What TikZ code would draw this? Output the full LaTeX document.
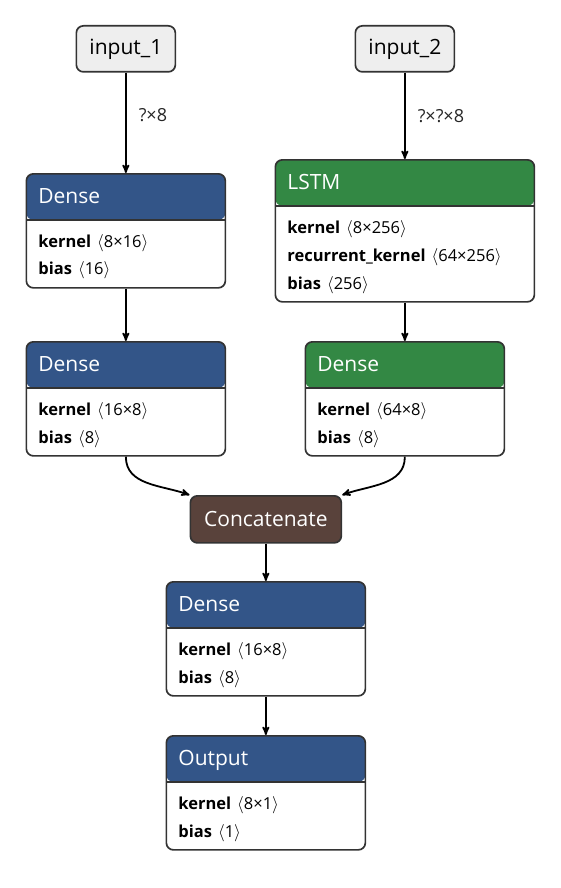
\documentclass[tikz,border=0pt]{standalone}
\usepackage{fontspec}
\setmainfont{Open Sans}
\usetikzlibrary{arrows,positioning}
\definecolor{densecol}{RGB}{51,85,136}
\definecolor{lstmcol}{RGB}{51,136,68}
\definecolor{catcol}{RGB}{89,66,59}
\definecolor{edgecol}{RGB}{51,51,51}
\definecolor{inputcol}{RGB}{238,238,238}
\newcommand\shp[1]{\hspace{6pt}$\langle$#1$\rangle$}

\begin{document}
\begin{tikzpicture}[x=1pt, y=-1pt, ->, >=stealth', line width=1.8pt,
	box/.style={draw=edgecol, line width=1.7pt, rounded corners=7pt, anchor=north west, inner sep=0pt},
	layer/.style={box, fill=white, minimum width=#1},
	hdr/.style={path picture={
		\fill[#1] (path picture bounding box.north west) rectangle ([yshift=-46pt]path picture bounding box.north east);
		\draw[-, draw=edgecol, line width=1.7pt] ([yshift=-46pt]path picture bounding box.north west) -- ([yshift=-46pt]path picture bounding box.north east);}},
	title/.style={anchor=base west, text=white, inner sep=0pt, font=\fontsize{21}{25}\selectfont},
	attr/.style={anchor=base west, inner sep=0pt, font=\fontsize{16.5}{19}\selectfont},
	lbl/.style={anchor=west, inner sep=0pt, xshift=12pt, text=black!85, font=\fontsize{18}{21}\selectfont}]
\useasboundingbox (0,0) rectangle (560,888);

% inputs
\node[box, fill=inputcol, minimum width=99pt, minimum height=46pt, font=\fontsize{21}{24}\selectfont] (in1) at (75.5,25) {input\_1};
\node[box, fill=inputcol, minimum width=99pt, minimum height=46pt, font=\fontsize{21}{24}\selectfont] (in2) at (354.5,25) {input\_2};

% left branch
\node[layer=199pt, minimum height=114pt, hdr=densecol] (d1) at (25.5,173) {};
\node[title] (d1t) at ([xshift=12pt,yshift=-30pt]d1.north west) {Dense};
\node[attr] (d1k) at ([xshift=12pt,yshift=-74pt]d1.north west) {\textbf{kernel}\shp{8×16}};
\node[attr] (d1b) at ([xshift=12pt,yshift=-101pt]d1.north west) {\textbf{bias}\shp{16}};

\node[layer=199pt, minimum height=114pt, hdr=densecol] (d2) at (25.5,341) {};
\node[title] (d2t) at ([xshift=12pt,yshift=-30pt]d2.north west) {Dense};
\node[attr] (d2k) at ([xshift=12pt,yshift=-74pt]d2.north west) {\textbf{kernel}\shp{16×8}};
\node[attr] (d2b) at ([xshift=12pt,yshift=-102pt]d2.north west) {\textbf{bias}\shp{8}};

% right branch
\node[layer=259pt, minimum height=142pt, hdr=lstmcol] (ls) at (274.5,159) {};
\node[title] (lst) at ([xshift=12pt,yshift=-30pt]ls.north west) {LSTM};
\node[attr] (lsk) at ([xshift=12pt,yshift=-74pt]ls.north west) {\textbf{kernel}\shp{8×256}};
\node[attr] (lsr) at ([xshift=12pt,yshift=-102pt]ls.north west) {\textbf{recurrent\_kernel}\shp{64×256}};
\node[attr] (lsb) at ([xshift=12pt,yshift=-130pt]ls.north west) {\textbf{bias}\shp{256}};

\node[layer=199pt, minimum height=114pt, hdr=lstmcol] (dr) at (304.5,341) {};
\node[title] (drt) at ([xshift=12pt,yshift=-30pt]dr.north west) {Dense};
\node[attr] (drk) at ([xshift=12pt,yshift=-74pt]dr.north west) {\textbf{kernel}\shp{64×8}};
\node[attr] (drb) at ([xshift=12pt,yshift=-102pt]dr.north west) {\textbf{bias}\shp{8}};

% merge
\node[box, fill=catcol, text=white, minimum width=151pt, minimum height=47pt, font=\fontsize{21}{24}\selectfont] (cc) at (189.5,495) {Concatenate};

\node[layer=199pt, minimum height=114pt, hdr=densecol] (d3) at (165.5,581) {};
\node[title] (d3t) at ([xshift=12pt,yshift=-30pt]d3.north west) {Dense};
\node[attr] (d3k) at ([xshift=12pt,yshift=-74pt]d3.north west) {\textbf{kernel}\shp{16×8}};
\node[attr] (d3b) at ([xshift=12pt,yshift=-102pt]d3.north west) {\textbf{bias}\shp{8}};

\node[layer=199pt, minimum height=114pt, hdr=densecol] (out) at (165.5,735) {};
\node[title] (outt) at ([xshift=12pt,yshift=-30pt]out.north west) {Output};
\node[attr] (outk) at ([xshift=12pt,yshift=-74pt]out.north west) {\textbf{kernel}\shp{8×1}};
\node[attr] (outb) at ([xshift=12pt,yshift=-102pt]out.north west) {\textbf{bias}\shp{1}};

% connectors
\draw (in1.south) -- node[lbl, pos=0.42] {?×8} (d1.north);
\draw (in2.south) -- node[lbl, pos=0.5] {?×?×8} (ls.north);
\draw (d1.south) -- (d2.north);
\draw (ls.south) -- (dr.north);
\draw (d2.south) to[out=-90, in=160] (cc.north west);
\draw (dr.south) to[out=-90, in=20] (cc.north east);
\draw (cc.south) -- (d3.north);
\draw (d3.south) -- (out.north);
\end{tikzpicture}
\end{document}
